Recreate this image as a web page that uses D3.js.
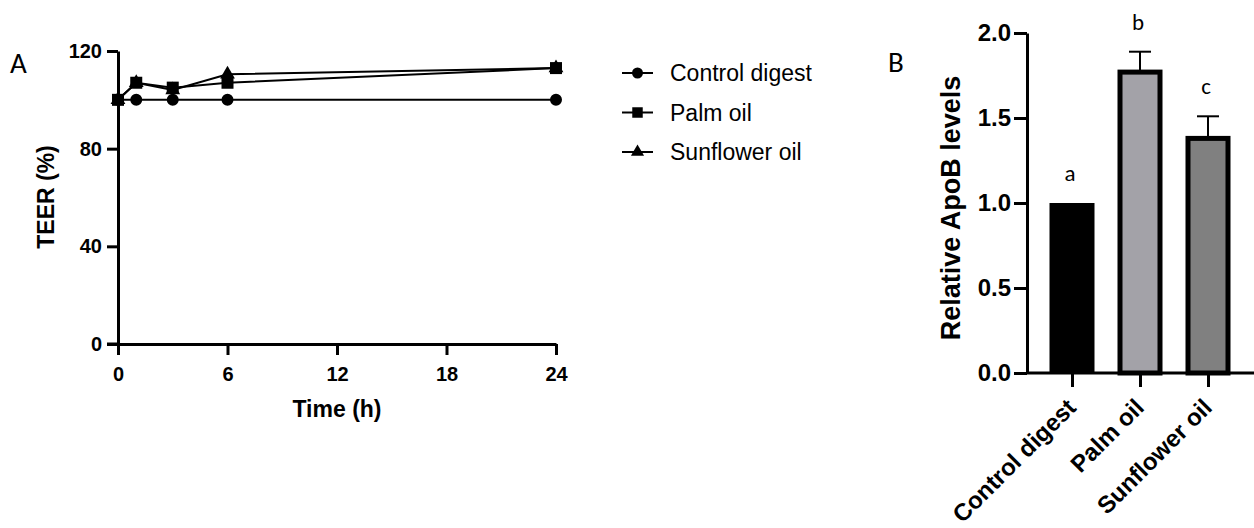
<!DOCTYPE html>
<html><head><meta charset="utf-8">
<script src="https://cdn.jsdelivr.net/npm/d3@7"></script>
<style>
html,body{margin:0;padding:0;background:#fff;}
svg{display:block;}
</style></head>
<body>
<svg id="chart" width="1254" height="528"></svg>
<script>
// ---- Panel A data ----
const timePoints = [0, 1, 3, 6, 24];
const controlTEER = [100, 100, 100, 100, 100];
const palmTEER = [100, 107, 105, 107, 113];
const sunflowerTEER = [100, 107, 104, 110.5, 113];
const seriesNames = ["Control digest", "Palm oil", "Sunflower oil"];
const teerTicks = [0, 40, 80, 120];
const timeTicks = [0, 6, 12, 18, 24];

// ---- Panel B data ----
const groups = ["Control digest", "Palm oil", "Sunflower oil"];
const apoB = [1.0, 1.77, 1.38];
const apoBErr = [0, 0.12, 0.13];
const sigLetters = ["a", "b", "c"];
const apoTicks = [0.0, 0.5, 1.0, 1.5, 2.0];

const svg = d3.select("#chart");
const boldFont = "'Liberation Sans', Arial, sans-serif";
const regFont = "'Liberation Sans', Arial, sans-serif";
const letterFont = "Carlito, 'Open Sans', 'Liberation Sans', sans-serif";

// ===== Panel A =====
const xA = d3.scaleLinear().domain([0, 24]).range([118, 556]);
const yA = d3.scaleLinear().domain([0, 120]).range([344, 51]);

svg.append("text").attr("x", 10).attr("y", 73).attr("font-family", letterFont)
  .attr("font-size", 29).text("A");

const gyA = svg.append("g").attr("transform", `translate(${xA(0)},0)`)
  .call(d3.axisLeft(yA).tickValues(teerTicks).tickSize(11).tickPadding(5).tickSizeOuter(0));
const gxA = svg.append("g").attr("transform", `translate(0,${yA(0)})`)
  .call(d3.axisBottom(xA).tickValues(timeTicks).tickSize(11).tickPadding(12).tickSizeOuter(0));
[gyA, gxA].forEach(g => {
  g.selectAll("path.domain").attr("stroke", "#000").attr("stroke-width", 3);
  g.selectAll(".tick line").attr("stroke", "#000").attr("stroke-width", 3);
  g.selectAll(".tick text").attr("font-family", boldFont).attr("font-weight", "bold")
    .attr("font-size", 20).attr("fill", "#000");
});
svg.append("line").attr("x1", xA(0) - 11).attr("x2", xA(0)).attr("y1", yA(0)).attr("y2", yA(0))
  .attr("stroke", "#000").attr("stroke-width", 3);

svg.append("text").attr("transform", `translate(54,${197}) rotate(-90)`)
  .attr("text-anchor", "middle").attr("font-family", boldFont).attr("font-weight", "bold")
  .attr("font-size", 23).text("TEER (%)");
svg.append("text").attr("x", (xA(0) + xA(24)) / 2).attr("y", 417)
  .attr("text-anchor", "middle").attr("font-family", boldFont).attr("font-weight", "bold")
  .attr("font-size", 23).text("Time (h)");

const line = d3.line().x(d => xA(d[0])).y(d => yA(d[1]));
const seriesData = [controlTEER, sunflowerTEER, palmTEER];
const seriesShapes = [d3.symbolCircle, d3.symbolTriangle, d3.symbolSquare];
const seriesSizes = [113, 95, 144];
seriesData.forEach(vals => {
  const pts = timePoints.map((t, j) => [t, vals[j]]);
  svg.append("path").datum(pts).attr("d", line).attr("fill", "none")
    .attr("stroke", "#000").attr("stroke-width", 2);
});
seriesData.forEach((vals, i) => {
  const pts = timePoints.map((t, j) => [t, vals[j]]);
  svg.append("g").selectAll("path").data(pts).join("path")
    .attr("transform", d => `translate(${xA(d[0])},${yA(d[1])})`)
    .attr("d", d3.symbol().type(seriesShapes[i]).size(seriesSizes[i]))
    .attr("fill", "#000");
});

// legend
const legendShapes = [d3.symbolCircle, d3.symbolSquare, d3.symbolTriangle];
const legendSizes = [95, 110, 75];
seriesNames.forEach((name, i) => {
  const y = 73 + i * 39.5;
  svg.append("line").attr("x1", 622).attr("x2", 653).attr("y1", y).attr("y2", y)
    .attr("stroke", "#000").attr("stroke-width", 2);
  svg.append("path").attr("transform", `translate(637.5,${y})`)
    .attr("d", d3.symbol().type(legendShapes[i]).size(legendSizes[i])).attr("fill", "#000");
  svg.append("text").attr("x", 670).attr("y", y + 8).attr("font-family", regFont)
    .attr("font-size", 23).text(name);
});

// ===== Panel B =====
const xB = d3.scalePoint().domain(groups).range([1038, 1242]).padding(0.5);
const yB = d3.scaleLinear().domain([0, 2]).range([373, 33]);
const barW = 45;
const fills = ["#000000", "#a3a2a8", "#808080"];

svg.append("text").attr("x", 888).attr("y", 72).attr("font-family", letterFont)
  .attr("font-size", 29).text("B");

groups.forEach((g, i) => {
  const cx = xB(g);
  if (i === 0) {
    svg.append("rect").attr("x", cx - barW / 2).attr("y", yB(apoB[i]))
      .attr("width", barW).attr("height", yB(0) - yB(apoB[i])).attr("fill", fills[i]);
  } else {
    svg.append("rect").attr("x", cx - barW / 2 + 2.5).attr("y", yB(apoB[i]))
      .attr("width", barW - 5).attr("height", yB(0) - yB(apoB[i]))
      .attr("fill", fills[i]).attr("stroke", "#000").attr("stroke-width", 5);
  }
  if (apoBErr[i] > 0) {
    const top = yB(apoB[i] + apoBErr[i]);
    svg.append("line").attr("x1", cx).attr("x2", cx).attr("y1", yB(apoB[i]) - 2).attr("y2", top)
      .attr("stroke", "#000").attr("stroke-width", 2);
    svg.append("line").attr("x1", cx - 11).attr("x2", cx + 11).attr("y1", top).attr("y2", top)
      .attr("stroke", "#000").attr("stroke-width", 2);
  }
  const letterY = yB(apoB[i] + apoBErr[i]) - 22;
  svg.append("text").attr("x", cx - 2).attr("y", letterY).attr("text-anchor", "middle")
    .attr("font-family", letterFont).attr("font-size", 23).text(sigLetters[i]);
});

const gyB = svg.append("g").attr("transform", `translate(1027,0)`)
  .call(d3.axisLeft(yB).tickValues(apoTicks).tickFormat(d3.format(".1f")).tickSize(13).tickPadding(3).tickSizeOuter(0));
const gxB = svg.append("g").attr("transform", `translate(0,${yB(0)})`)
  .call(d3.axisBottom(xB).tickSize(14).tickSizeOuter(0).tickPadding(6));
gxB.select("path.domain").remove();
svg.append("line").attr("x1", 1027).attr("x2", 1254).attr("y1", yB(0)).attr("y2", yB(0))
  .attr("stroke", "#000").attr("stroke-width", 3);
[gyB, gxB].forEach(g => {
  g.selectAll("path.domain").attr("stroke", "#000").attr("stroke-width", 3);
  g.selectAll(".tick line").attr("stroke", "#000").attr("stroke-width", 3);
  g.selectAll(".tick text").attr("font-family", boldFont).attr("font-weight", "bold")
    .attr("font-size", 24).attr("fill", "#000");
});
gxB.selectAll(".tick text")
  .attr("text-anchor", "end").attr("x", 0).attr("y", 0).attr("dy", 0)
  .attr("transform", "translate(5,36) rotate(-45)");

svg.append("text").attr("transform", `translate(960,208) rotate(-90)`)
  .attr("text-anchor", "middle").attr("font-family", boldFont).attr("font-weight", "bold")
  .attr("font-size", 27).text("Relative ApoB levels");
</script>
</body></html>
